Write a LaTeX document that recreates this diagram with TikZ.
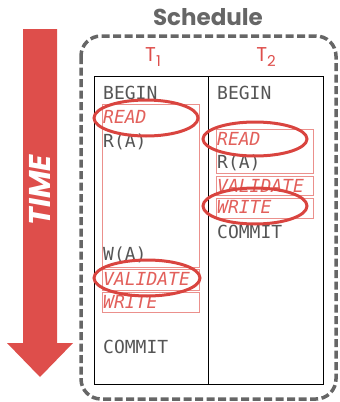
\documentclass[tikz,border=0pt]{standalone}
\usepackage{fontspec}
\setsansfont{Poppins}
\setmonofont{DejaVu Sans Mono}
\usetikzlibrary{positioning}

\definecolor{timered}{HTML}{DE4E4B}
\definecolor{ringred}{HTML}{D9443F}
\definecolor{phasered}{HTML}{E2605B}
\definecolor{schedgray}{HTML}{666666}
\definecolor{opgray}{HTML}{555555}

\begin{document}
\begin{tikzpicture}[x=1pt,y=-1pt,
  op/.style={anchor=west, inner sep=0pt, text=opgray, font=\ttfamily\fontsize{18}{18}\selectfont},
  phase/.style={op, text=phasered, font=\ttfamily\itshape\fontsize{18}{18}\selectfont},
  phasebox/.style={draw=phasered!70, line width=0.7pt},
  ring/.style={draw=ringred, line width=3pt},
  txn/.style={text=timered, font=\sffamily\fontsize{20}{20}\selectfont}]
  \useasboundingbox (0,0) rectangle (340,402);

  % time arrow
  \fill[timered] (23,29) -- (57,29) -- (57,343) -- (73,343) -- (40,377)
    -- (7,343) -- (23,343) -- cycle;
  \node[rotate=90, text=white, font=\sffamily\bfseries\itshape\fontsize{30}{30}\selectfont] (time) at (40,190) {TIME};

  % schedule frame
  \node[text=schedgray, font=\sffamily\bfseries\fontsize{23}{23}\selectfont] (sched) at (208,17) {Schedule};
  \draw[schedgray, line width=3.5pt, dash pattern=on 8pt off 3.5pt, rounded corners=20pt] (81,36) rectangle (336,399);

  % table
  \draw[black, line width=0.6pt] (94,76) rectangle (323,384);
  \draw[black, line width=0.6pt] (208,76) -- (208,384);
  \node[txn] (t1) at (153,57) {T\raisebox{-0.45ex}{\fontsize{15}{15}\selectfont 1}};
  \node[txn] (t2) at (266,57) {T\raisebox{-0.45ex}{\fontsize{15}{15}\selectfont 2}};

  % phase boxes
  \draw[phasebox] (102,104) rectangle (199,267);
  \draw[phasebox] (102,269) rectangle (199,290);
  \draw[phasebox] (102,292) rectangle (199,312);
  \draw[phasebox] (216,129) rectangle (313,173);
  \draw[phasebox] (216,176) rectangle (313,195);
  \draw[phasebox] (216,198) rectangle (313,218);

  % T1 operations
  \node[op] (b1) at (103,93) {BEGIN};
  \node[phase] (rd1) at (103,117) {READ};
  \node[op] (ra1) at (103,142) {R(A)};
  \node[op] (wa1) at (103,255) {W(A)};
  \node[phase] (va1) at (103,279) {VALIDATE};
  \node[phase] (wr1) at (103,302) {WRITE};
  \node[op] (c1) at (103,347) {COMMIT};

  % T2 operations
  \node[op] (b2) at (217,93) {BEGIN};
  \node[phase] (rd2) at (217,139) {READ};
  \node[op] (ra2) at (217,163) {R(A)};
  \node[phase] (va2) at (217,186) {VALIDATE};
  \node[phase] (wr2) at (217,207) {WRITE};
  \node[op] (c2) at (217,232) {COMMIT};

  % rings
  \draw[ring] (146,118) ellipse [x radius=52pt, y radius=18pt];
  \draw[ring] (147,278) ellipse [x radius=53pt, y radius=18pt];
  \draw[ring] (255,139) ellipse [x radius=52pt, y radius=17pt];
  \draw[ring] (255,206) ellipse [x radius=52pt, y radius=18pt];
\end{tikzpicture}
\end{document}
